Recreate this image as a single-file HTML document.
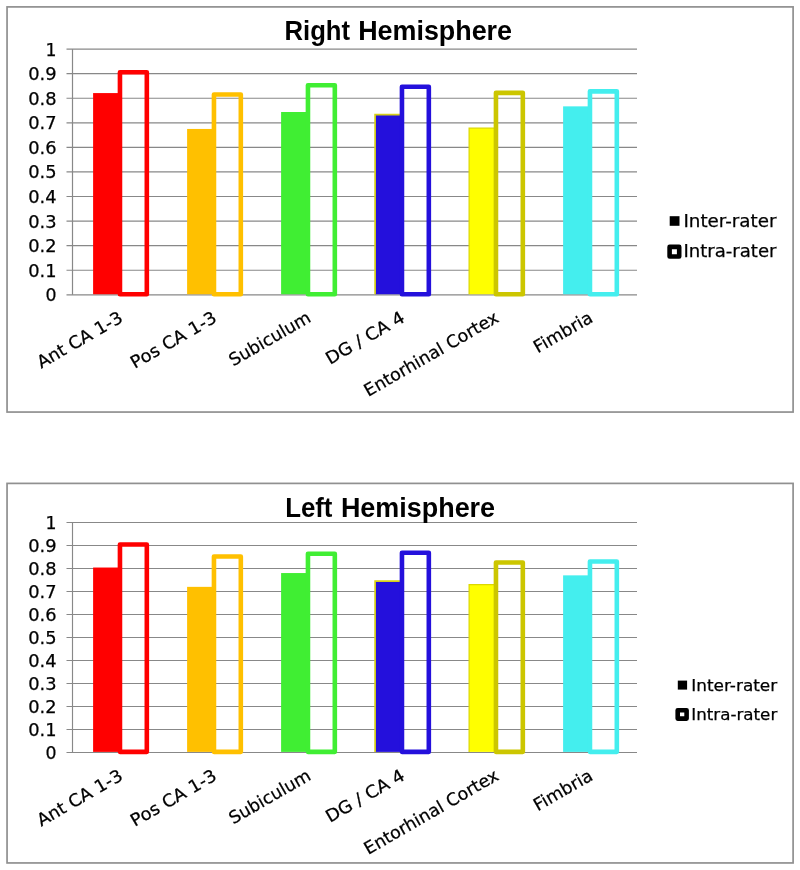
<!DOCTYPE html>
<html><head><meta charset="utf-8"><title>Chart</title>
<style>
html,body{margin:0;padding:0;background:#fff;}
svg{display:block}
.ax{font-family:"DejaVu Sans","Liberation Sans",sans-serif;font-size:17.33px;fill:#000;stroke:#000;stroke-width:0.25px}
.title{font-family:"Liberation Sans",sans-serif;font-weight:bold;font-size:26.8px;fill:#000}
</style></head><body>
<svg width="800" height="870" viewBox="0 0 800 870">
<rect width="800" height="870" fill="#fff"/>
<rect x="7.05" y="6.9" width="786.05" height="405.15" fill="#fff" stroke="#909090" stroke-width="1.7"/>
<line x1="66.5" y1="49.10" x2="637" y2="49.10" stroke="#888888" stroke-width="1.2"/>
<line x1="66.5" y1="73.67" x2="637" y2="73.67" stroke="#888888" stroke-width="1.2"/>
<line x1="66.5" y1="98.24" x2="637" y2="98.24" stroke="#888888" stroke-width="1.2"/>
<line x1="66.5" y1="122.81" x2="637" y2="122.81" stroke="#888888" stroke-width="1.2"/>
<line x1="66.5" y1="147.38" x2="637" y2="147.38" stroke="#888888" stroke-width="1.2"/>
<line x1="66.5" y1="171.95" x2="637" y2="171.95" stroke="#888888" stroke-width="1.2"/>
<line x1="66.5" y1="196.52" x2="637" y2="196.52" stroke="#888888" stroke-width="1.2"/>
<line x1="66.5" y1="221.09" x2="637" y2="221.09" stroke="#888888" stroke-width="1.2"/>
<line x1="66.5" y1="245.66" x2="637" y2="245.66" stroke="#888888" stroke-width="1.2"/>
<line x1="66.5" y1="270.23" x2="637" y2="270.23" stroke="#888888" stroke-width="1.2"/>
<line x1="66.5" y1="294.80" x2="637" y2="294.80" stroke="#888888" stroke-width="1.2"/>
<line x1="72.5" y1="49.1" x2="72.5" y2="294.80" stroke="#888888" stroke-width="1.2"/>
<text x="45.58" y="55.60" class="ax" textLength="11.02" lengthAdjust="spacingAndGlyphs">1</text>
<text x="28.26" y="80.17" class="ax" textLength="28.34" lengthAdjust="spacingAndGlyphs">0.9</text>
<text x="28.26" y="104.74" class="ax" textLength="28.34" lengthAdjust="spacingAndGlyphs">0.8</text>
<text x="28.26" y="129.31" class="ax" textLength="28.34" lengthAdjust="spacingAndGlyphs">0.7</text>
<text x="28.26" y="153.88" class="ax" textLength="28.34" lengthAdjust="spacingAndGlyphs">0.6</text>
<text x="28.26" y="178.45" class="ax" textLength="28.34" lengthAdjust="spacingAndGlyphs">0.5</text>
<text x="28.26" y="203.02" class="ax" textLength="28.34" lengthAdjust="spacingAndGlyphs">0.4</text>
<text x="28.26" y="227.59" class="ax" textLength="28.34" lengthAdjust="spacingAndGlyphs">0.3</text>
<text x="28.26" y="252.16" class="ax" textLength="28.34" lengthAdjust="spacingAndGlyphs">0.2</text>
<text x="28.26" y="276.73" class="ax" textLength="28.34" lengthAdjust="spacingAndGlyphs">0.1</text>
<text x="45.58" y="301.30" class="ax" textLength="11.02" lengthAdjust="spacingAndGlyphs">0</text>
<rect x="93.10" y="93.08" width="26.86" height="201.17" fill="#ff0000"/>
<rect x="119.96" y="72.20" width="26.86" height="222.00" fill="none" stroke="#ff0000" stroke-width="4.6" stroke-linejoin="round"/>
<rect x="187.10" y="128.95" width="26.86" height="165.30" fill="#ffc000"/>
<rect x="213.96" y="94.55" width="26.86" height="199.65" fill="none" stroke="#ffc000" stroke-width="4.6" stroke-linejoin="round"/>
<rect x="281.10" y="112.00" width="26.86" height="182.25" fill="#40ee33"/>
<rect x="307.96" y="85.22" width="26.86" height="208.98" fill="none" stroke="#40ee33" stroke-width="4.6" stroke-linejoin="round"/>
<rect x="375.10" y="114.70" width="26.86" height="179.55" fill="#2410dc"/>
<polyline points="375.10,294.25 375.10,114.70 401.96,114.70" fill="none" stroke="#d6cf18" stroke-width="1.7"/>
<rect x="401.96" y="86.69" width="26.86" height="207.51" fill="none" stroke="#2410dc" stroke-width="4.6" stroke-linejoin="round"/>
<rect x="469.10" y="128.22" width="26.86" height="166.03" fill="#ffff00"/>
<polyline points="469.10,294.25 469.10,128.22 495.96,128.22" fill="none" stroke="#dcd800" stroke-width="1.2"/>
<rect x="495.96" y="92.83" width="26.86" height="201.37" fill="none" stroke="#ccc600" stroke-width="4.6" stroke-linejoin="round"/>
<rect x="563.10" y="106.35" width="26.86" height="187.90" fill="#44eeee"/>
<rect x="589.96" y="91.36" width="26.86" height="202.84" fill="none" stroke="#44eeee" stroke-width="4.6" stroke-linejoin="round"/>
<text y="40.3" class="title"><tspan x="284.5" textLength="65.6" lengthAdjust="spacingAndGlyphs">Right</tspan> <tspan x="358.2" textLength="153.8" lengthAdjust="spacingAndGlyphs">Hemisphere</tspan></text>
<rect x="669.7" y="216.2" width="9.8" height="9.6" fill="#000"/>
<text x="683.4" y="226.7" class="ax" style="font-size:17.33px" textLength="93.03" lengthAdjust="spacingAndGlyphs">Inter-rater</text>
<rect x="669.6" y="246.9" width="9.6" height="9.6" fill="#fff" stroke="#000" stroke-width="4.6" stroke-linejoin="round"/>
<text x="683.4" y="257.2" class="ax" style="font-size:17.33px" textLength="93.11" lengthAdjust="spacingAndGlyphs">Intra-rater</text>
<text transform="translate(124.0,321) rotate(-30)" x="-95.68" y="0" class="ax" textLength="95.68" lengthAdjust="spacingAndGlyphs">Ant CA 1-3</text>
<text transform="translate(218.0,321) rotate(-30)" x="-96.03" y="0" class="ax" textLength="96.03" lengthAdjust="spacingAndGlyphs">Pos CA 1-3</text>
<text transform="translate(312.0,321) rotate(-30)" x="-90.94" y="0" class="ax" textLength="90.94" lengthAdjust="spacingAndGlyphs">Subiculum</text>
<text transform="translate(406.0,321) rotate(-30)" x="-87.90" y="0" class="ax" textLength="87.90" lengthAdjust="spacingAndGlyphs">DG / CA 4</text>
<text transform="translate(500.0,321) rotate(-30)" x="-152.04" y="0" class="ax" textLength="152.04" lengthAdjust="spacingAndGlyphs">Entorhinal Cortex</text>
<text transform="translate(594.0,321) rotate(-30)" x="-64.93" y="0" class="ax" textLength="64.93" lengthAdjust="spacingAndGlyphs">Fimbria</text>
<rect x="7.05" y="483.4" width="786.05" height="379.55" fill="#fff" stroke="#909090" stroke-width="1.7"/>
<line x1="66.5" y1="522.45" x2="637" y2="522.45" stroke="#888888" stroke-width="1.15"/>
<line x1="66.5" y1="545.45" x2="637" y2="545.45" stroke="#888888" stroke-width="1.15"/>
<line x1="66.5" y1="568.45" x2="637" y2="568.45" stroke="#888888" stroke-width="1.15"/>
<line x1="66.5" y1="591.45" x2="637" y2="591.45" stroke="#888888" stroke-width="1.15"/>
<line x1="66.5" y1="614.45" x2="637" y2="614.45" stroke="#888888" stroke-width="1.15"/>
<line x1="66.5" y1="637.45" x2="637" y2="637.45" stroke="#888888" stroke-width="1.15"/>
<line x1="66.5" y1="660.45" x2="637" y2="660.45" stroke="#888888" stroke-width="1.15"/>
<line x1="66.5" y1="683.45" x2="637" y2="683.45" stroke="#888888" stroke-width="1.15"/>
<line x1="66.5" y1="706.45" x2="637" y2="706.45" stroke="#888888" stroke-width="1.15"/>
<line x1="66.5" y1="729.45" x2="637" y2="729.45" stroke="#888888" stroke-width="1.15"/>
<line x1="66.5" y1="752.45" x2="637" y2="752.45" stroke="#888888" stroke-width="1.15"/>
<line x1="72.5" y1="522.45" x2="72.5" y2="752.45" stroke="#888888" stroke-width="1.15"/>
<text x="45.58" y="528.95" class="ax" textLength="11.02" lengthAdjust="spacingAndGlyphs">1</text>
<text x="28.26" y="551.95" class="ax" textLength="28.34" lengthAdjust="spacingAndGlyphs">0.9</text>
<text x="28.26" y="574.95" class="ax" textLength="28.34" lengthAdjust="spacingAndGlyphs">0.8</text>
<text x="28.26" y="597.95" class="ax" textLength="28.34" lengthAdjust="spacingAndGlyphs">0.7</text>
<text x="28.26" y="620.95" class="ax" textLength="28.34" lengthAdjust="spacingAndGlyphs">0.6</text>
<text x="28.26" y="643.95" class="ax" textLength="28.34" lengthAdjust="spacingAndGlyphs">0.5</text>
<text x="28.26" y="666.95" class="ax" textLength="28.34" lengthAdjust="spacingAndGlyphs">0.4</text>
<text x="28.26" y="689.95" class="ax" textLength="28.34" lengthAdjust="spacingAndGlyphs">0.3</text>
<text x="28.26" y="712.95" class="ax" textLength="28.34" lengthAdjust="spacingAndGlyphs">0.2</text>
<text x="28.26" y="735.95" class="ax" textLength="28.34" lengthAdjust="spacingAndGlyphs">0.1</text>
<text x="45.58" y="758.95" class="ax" textLength="11.02" lengthAdjust="spacingAndGlyphs">0</text>
<rect x="93.10" y="567.53" width="26.86" height="184.37" fill="#ff0000"/>
<rect x="119.96" y="544.53" width="26.86" height="207.32" fill="none" stroke="#ff0000" stroke-width="4.6" stroke-linejoin="round"/>
<rect x="187.10" y="586.85" width="26.86" height="165.05" fill="#ffc000"/>
<rect x="213.96" y="556.49" width="26.86" height="195.36" fill="none" stroke="#ffc000" stroke-width="4.6" stroke-linejoin="round"/>
<rect x="281.10" y="573.05" width="26.86" height="178.85" fill="#40ee33"/>
<rect x="307.96" y="553.73" width="26.86" height="198.12" fill="none" stroke="#40ee33" stroke-width="4.6" stroke-linejoin="round"/>
<rect x="375.10" y="581.10" width="26.86" height="170.80" fill="#2410dc"/>
<polyline points="375.10,751.90 375.10,581.10 401.96,581.10" fill="none" stroke="#d6cf18" stroke-width="1.7"/>
<rect x="401.96" y="552.81" width="26.86" height="199.04" fill="none" stroke="#2410dc" stroke-width="4.6" stroke-linejoin="round"/>
<rect x="469.10" y="584.55" width="26.86" height="167.35" fill="#ffff00"/>
<polyline points="469.10,751.90 469.10,584.55 495.96,584.55" fill="none" stroke="#dcd800" stroke-width="1.2"/>
<rect x="495.96" y="562.47" width="26.86" height="189.38" fill="none" stroke="#ccc600" stroke-width="4.6" stroke-linejoin="round"/>
<rect x="563.10" y="575.35" width="26.86" height="176.55" fill="#44eeee"/>
<rect x="589.96" y="561.55" width="26.86" height="190.30" fill="none" stroke="#44eeee" stroke-width="4.6" stroke-linejoin="round"/>
<text y="516.6" class="title"><tspan x="285.15" textLength="47.3" lengthAdjust="spacingAndGlyphs">Left</tspan> <tspan x="340.9" textLength="154.2" lengthAdjust="spacingAndGlyphs">Hemisphere</tspan></text>
<rect x="677.8" y="680.6" width="9.3" height="9.0" fill="#000"/>
<text x="691.3" y="690.8" class="ax" style="font-size:16px" textLength="85.89" lengthAdjust="spacingAndGlyphs">Inter-rater</text>
<rect x="677.7" y="710.2" width="8.9" height="8.4" fill="#fff" stroke="#000" stroke-width="4.6" stroke-linejoin="round"/>
<text x="691.3" y="719.8" class="ax" style="font-size:16px" textLength="85.97" lengthAdjust="spacingAndGlyphs">Intra-rater</text>
<text transform="translate(124.0,779) rotate(-30)" x="-95.68" y="0" class="ax" textLength="95.68" lengthAdjust="spacingAndGlyphs">Ant CA 1-3</text>
<text transform="translate(218.0,779) rotate(-30)" x="-96.03" y="0" class="ax" textLength="96.03" lengthAdjust="spacingAndGlyphs">Pos CA 1-3</text>
<text transform="translate(312.0,779) rotate(-30)" x="-90.94" y="0" class="ax" textLength="90.94" lengthAdjust="spacingAndGlyphs">Subiculum</text>
<text transform="translate(406.0,779) rotate(-30)" x="-87.90" y="0" class="ax" textLength="87.90" lengthAdjust="spacingAndGlyphs">DG / CA 4</text>
<text transform="translate(500.0,779) rotate(-30)" x="-152.04" y="0" class="ax" textLength="152.04" lengthAdjust="spacingAndGlyphs">Entorhinal Cortex</text>
<text transform="translate(594.0,779) rotate(-30)" x="-64.93" y="0" class="ax" textLength="64.93" lengthAdjust="spacingAndGlyphs">Fimbria</text>
</svg>
</body></html>
